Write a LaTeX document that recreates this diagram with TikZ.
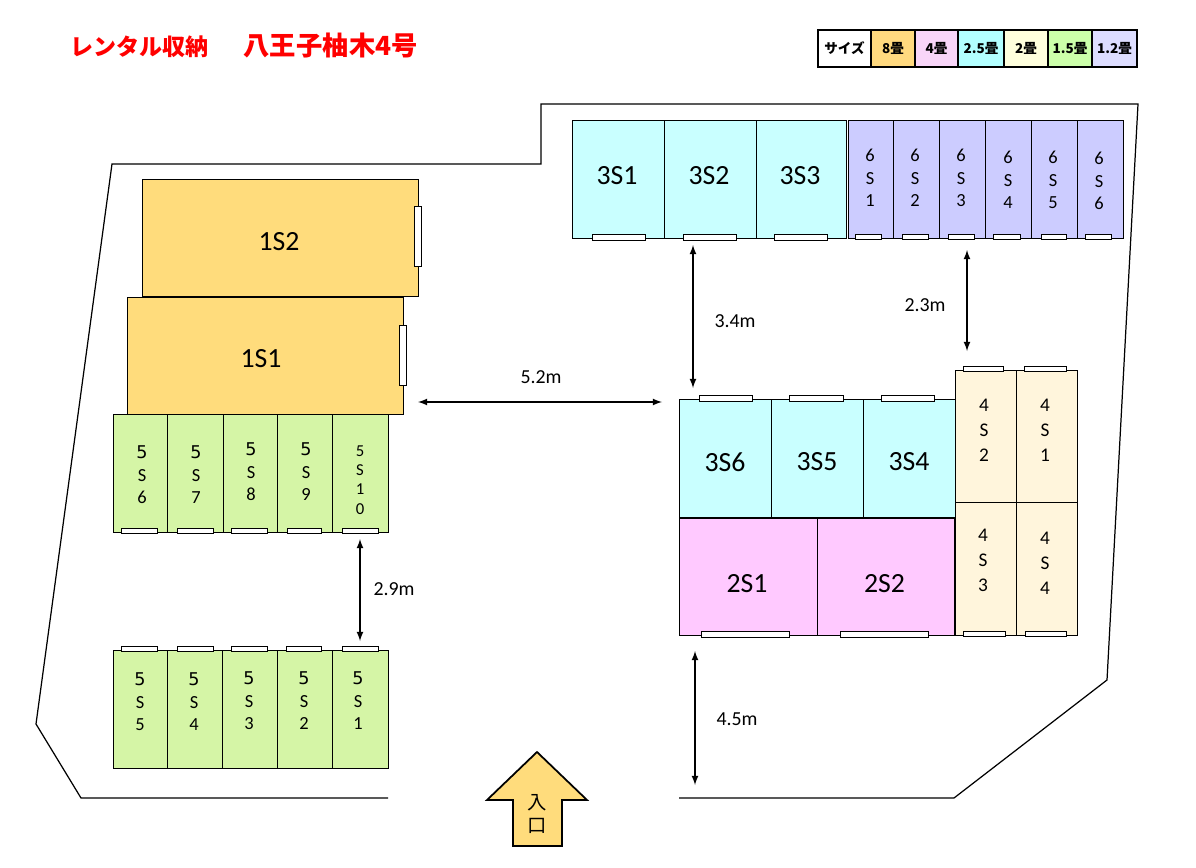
\documentclass[tikz,border=0pt]{standalone}
\usepackage{fontspec}
\setmainfont{Carlito}
\newfontfamily\cjk{Noto Sans CJK JP}
\newfontfamily\gothic{DejaVu Sans}
\definecolor{col8}{HTML}{FFDC7C}
\definecolor{col4}{HTML}{FFC9FF}
\definecolor{colB}{HTML}{C9FFFF}
\definecolor{col2}{HTML}{FFF5DC}
\definecolor{colG}{HTML}{D5F5A6}
\definecolor{colP}{HTML}{CCCCFF}
\definecolor{leg8}{HTML}{FFD97F}
\definecolor{leg4}{HTML}{F8D5F8}
\definecolor{legB}{HTML}{B2FFFF}
\definecolor{leg2}{HTML}{FFFFDD}
\definecolor{legG}{HTML}{CCFFAA}
\definecolor{legP}{HTML}{DDDDFF}
\tikzset{
    room/.style={draw=black, line width=0.5pt},
    door/.style={draw=black, fill=white, line width=0.5pt},
    bigtxt/.style={font=\fontsize{15.8}{18}\selectfont, inner sep=0pt},
    smalltxt/.style={font=\fontsize{10.5}{12.8}\selectfont, align=center, inner sep=0pt},
    gaptxt/.style={font=\fontsize{11.3}{13}\selectfont, inner sep=0pt},
    gaparrow/.style={<->, >=latex, line width=0.8pt},
    legendtxt/.style={font=\cjk\bfseries\fontsize{7.7}{9}\selectfont, inner sep=0pt}
}
\begin{document}
\begin{tikzpicture}[x=0.02cm, y=-0.02cm]
    \useasboundingbox (0,0) rectangle (1196,868);
    % title
    \node[anchor=west, inner sep=0pt, text=red, font=\cjk\bfseries\fontsize{13.1}{15}\selectfont] (title) at (70,46) {レンタル収納\hspace{20pt}{\fontsize{15}{15}\selectfont 八王子柚木4号}};
    % legend
    \foreach \xa/\xb/\c/\t in {818/871/white/サイズ, 871/915/leg8/8畳, 915/958/leg4/4畳, 958/1004/legB/2.5畳, 1004/1048/leg2/2畳, 1048/1092/legG/1.5畳, 1092/1137/legP/1.2畳}{
        \draw[room, line width=0.6pt, fill=\c] (\xa,30) rectangle (\xb,67);
        \node[legendtxt] (leg\xa) at ({(\xa+\xb)/2},48) {\t};
    }
    % site outline
    \draw[line width=0.7pt] (388,798) -- (81,798) -- (36,724) -- (112,164) -- (541,164) -- (541,104) -- (1138,104) -- (1107,680) -- (954,798) -- (679,798);
    % 3S top row
    \foreach \xa/\xb/\dl/\dr/\t in {572/664/592/645/3S1, 664/756/683/736/3S2, 756/846/774/827/3S3}{
        \draw[room, fill=colB] (\xa,120) rectangle (\xb,238);
        \draw[door] (\dl,234) rectangle (\dr,240);
        \node[bigtxt] (lbl\t) at ({(\xa+\xb)/2-1},176) {\t};
    }
    % 6S row
    \foreach \xa/\xb/\dl/\dr/\lx/\ly/\n in {848/893/855/881/870/178/1, 893/939/902/928/915/178/2, 939/985/948/974/961/178/3, 985/1031/993/1020/1008/180/4, 1031/1077/1041/1066/1053/180/5, 1077/1123/1085/1111/1099/181/6}{
        \draw[room, fill=colP] (\xa,120) rectangle (\xb,238);
        \draw[door] (\dl,234) rectangle (\dr,239);
        \node[smalltxt] (lblsix\n) at (\lx,\ly) {6\\S\\\n};
    }
    % 8 jo rooms
    \draw[room, fill=col8] (142,179) rectangle (418,296);
    \draw[door] (414,206) rectangle (421,266);
    \node[bigtxt] (lbl1S2) at (279,242) {1S2};
    \draw[room, fill=col8] (127,297) rectangle (403,414);
    \draw[door] (399,325) rectangle (406,385);
    \node[bigtxt] (lbl1S1) at (261,359) {1S1};
    % 5S upper row
    \foreach \xa/\xb/\dl/\dr/\lx/\ly/\n in {113/167/121/157/142/475/6, 167/223/177/213/196/475/7, 223/277/231/267/251/472/8, 277/332/287/321/306/472/9}{
        \draw[room, fill=colG] (\xa,414) rectangle (\xb,532);
        \draw[door] (\dl,528) rectangle (\dr,533);
        \node[smalltxt] (lblfive\n) at (\lx,\ly) {{\gothic\fontsize{10}{12.8}\selectfont 5}\\S\\\n};
    }
    \draw[room, fill=colG] (332,414) rectangle (388,532);
    \draw[door] (342,528) rectangle (378,533);
    \node[smalltxt, font=\fontsize{9.5}{11}\selectfont] (lblfive10) at (360,480) {5\\S\\1\\0};
    % 5S lower row
    \foreach \xa/\xb/\dl/\dr/\lx/\ly/\n in {113/167/121/157/140/702/5, 167/222/177/213/194/702/4, 222/277/231/267/249/701/3, 277/332/286/321/304/701/2, 332/388/342/378/358/701/1}{
        \draw[room, fill=colG] (\xa,650) rectangle (\xb,768);
        \draw[door] (\dl,646) rectangle (\dr,651);
        \node[smalltxt] (lbllow\n) at (\lx,\ly) {{\gothic\fontsize{10}{12.8}\selectfont 5}\\S\\\n};
    }
    % 3S lower row
    \foreach \xa/\xb/\dl/\dr/\t in {679/771/699/752/3S6, 771/863/789/843/3S5, 863/955/881/934/3S4}{
        \draw[room, fill=colB] (\xa,399) rectangle (\xb,517);
        \draw[door] (\dl,395) rectangle (\dr,401);
        \node[bigtxt] (lbl\t) at ({(\xa+\xb)/2},462) {\t};
    }
    % 2S
    \foreach \xa/\xb/\dl/\dr/\t in {679/817/701/789/2S1, 817/954/840/928/2S2}{
        \draw[room, fill=col4] (\xa,518) rectangle (\xb,635);
        \draw[door] (\dl,631) rectangle (\dr,637);
        \node[bigtxt] (lbl\t) at ({(\xa+\xb)/2-1},584) {\t};
    }
    % 4S
    \foreach \xa/\xb/\ya/\yb/\dl/\dr/\dy/\lx/\ly/\n in {955/1016/370/502/963/1003/366/984/430/2, 1016/1077/370/502/1024/1066/366/1045/430/1, 955/1016/502/635/963/1005/631/983/560/3, 1016/1077/502/635/1025/1066/631/1045/563/4}{
        \draw[room, fill=col2] (\xa,\ya) rectangle (\xb,\yb);
        \draw[door] (\dl,\dy) rectangle (\dr,\dy+5.5);
        \node[smalltxt, font=\fontsize{11}{14.2}\selectfont] (lblfour\n) at (\lx,\ly) {4\\S\\\n};
    }
    % gaps
    \coordinate (a34) at (693,245);  \coordinate (b34) at (693,388);
    \coordinate (a23) at (967,250);  \coordinate (b23) at (967,351);
    \coordinate (a52) at (418,402);  \coordinate (b52) at (662,402);
    \coordinate (a29) at (360,539);  \coordinate (b29) at (360,641);
    \coordinate (a45) at (695,651);  \coordinate (b45) at (695,785);
    \draw[gaparrow] (a34) -- (b34);
    \draw[gaparrow] (a23) -- (b23);
    \draw[gaparrow] (a52) -- (b52);
    \draw[gaparrow] (a29) -- (b29);
    \draw[gaparrow] (a45) -- (b45);
    \node[gaptxt] (txt34) at (735,321) {3.4m};
    \node[gaptxt] (txt23) at (925,305) {2.3m};
    \node[gaptxt] (txt52) at (541,377) {5.2m};
    \node[gaptxt] (txt29) at (394,589) {2.9m};
    \node[gaptxt] (txt45) at (737,719) {4.5m};
    % entrance
    \draw[fill=col8, line width=1pt, line join=miter] (537,752) -- (587,800) -- (562,800) -- (562,846) -- (513,846) -- (513,800) -- (487,800) -- cycle;
    \node[inner sep=0pt, align=center, font=\cjk\fontsize{11}{13}\selectfont] (entry) at (537,814) {入\\口};
\end{tikzpicture}
\end{document}
